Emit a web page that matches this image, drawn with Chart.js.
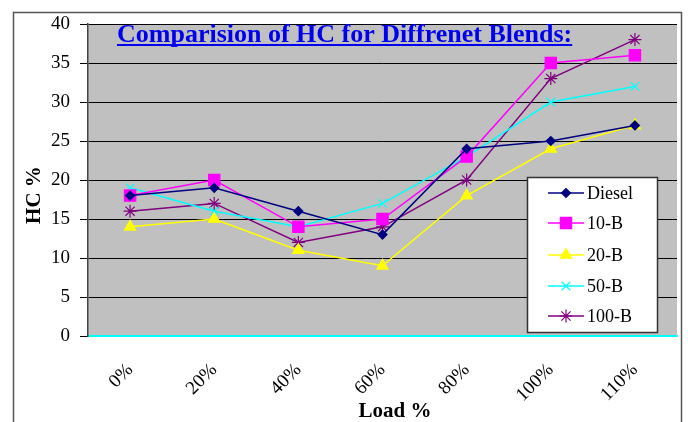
<!DOCTYPE html>
<html>
<head>
<meta charset="utf-8">
<script src="https://cdn.jsdelivr.net/npm/chart.js@4/dist/chart.umd.min.js"></script>
<style>
  html, body { margin: 0; padding: 0; background: #ffffff; }
  #wrap { width: 688px; height: 422px; position: relative; }
</style>
</head>
<body>
<div id="wrap"><canvas id="hc" width="688" height="422"></canvas></div>
<script>
// Engine load steps
const loads = ['0%', '20%', '40%', '60%', '80%', '100%', '110%'];

// HC % for each fuel blend
const diesel = [18, 19, 16, 13, 24, 25, 27];
const b10    = [18, 20, 14, 15, 23, 35, 36];
const b20    = [14, 15, 11, 9, 18, 24, 27];
const b50    = [19, 16, 14, 17, 23, 30, 32];
const b100   = [16, 17, 12, 14, 20, 33, 38];

const seriesNames = ['Diesel', '10-B', '20-B', '50-B', '100-B'];

const chartTitle = 'Comparision of HC for Diffrenet Blends:';
const xTitle = 'Load %';
const yTitle = 'HC %';

const serif = '"Liberation Serif", "Times New Roman", serif';

function line(label, data, color, style, radius) {
  return {
    label, data,
    borderColor: color,
    backgroundColor: color,
    borderWidth: 1.5,
    pointStyle: style,
    pointRadius: radius,
    pointHoverRadius: radius,
    pointBorderColor: color,
    pointBackgroundColor: color,
    pointBorderWidth: 1.2,
    tension: 0,
    fill: false
  };
}

// grey plot area, outer frame, title, axis titles and the boxed legend
const decor = {
  id: 'decor',
  beforeDraw(chart) {
    const { ctx, chartArea: a } = chart;
    ctx.save();
    ctx.fillStyle = '#c0c0c0';
    ctx.fillRect(a.left, a.top, a.right - a.left, a.bottom - a.top);
    ctx.strokeStyle = '#555555';
    ctx.lineWidth = 1.5;
    ctx.strokeRect(13.5, 12.5, 668, 440);
    ctx.restore();
  },
  afterDraw(chart) {
    const { ctx } = chart;
    ctx.save();

    // chart title, underlined
    ctx.font = 'bold 26px ' + serif;
    ctx.fillStyle = '#0000ee';
    ctx.textAlign = 'left';
    ctx.textBaseline = 'alphabetic';
    const tx = 117, ty = 42, tw = 457;
    ctx.fillText(chartTitle, tx, ty, tw);
    ctx.fillRect(tx, ty + 2, Math.min(tw, ctx.measureText(chartTitle).width), 2);

    // axis titles
    ctx.fillStyle = '#000000';
    ctx.font = 'bold 21px ' + serif;
    ctx.textAlign = 'center';
    ctx.textBaseline = 'middle';
    ctx.fillText(xTitle, 395, 412);
    ctx.save();
    ctx.translate(35, 195);
    ctx.rotate(-Math.PI / 2);
    ctx.fillText(yTitle, 0, 0);
    ctx.restore();

    // legend
    const bx = 527, by = 177, bw = 130, bh = 155;
    ctx.fillStyle = '#ffffff';
    ctx.fillRect(bx, by, bw, bh);
    ctx.strokeStyle = '#333333';
    ctx.lineWidth = 1.5;
    ctx.strokeRect(bx + 0.5, by + 0.5, bw, bh);
    const rows = [193, 223, 255, 286, 316];
    ctx.font = '18px ' + serif;
    ctx.textAlign = 'left';
    ctx.textBaseline = 'middle';
    chart.data.datasets.forEach((ds, i) => {
      const y = rows[i];
      ctx.strokeStyle = ds.borderColor;
      ctx.fillStyle = ds.backgroundColor;
      ctx.lineWidth = 1.5;
      ctx.beginPath();
      ctx.moveTo(548, y);
      ctx.lineTo(584, y);
      ctx.stroke();
      ctx.lineWidth = ds.pointBorderWidth;
      Chart.helpers.drawPoint(ctx, {
        pointStyle: ds.pointStyle, radius: ds.pointRadius,
        borderWidth: ds.pointBorderWidth, rotation: 0
      }, 566, y);
      ctx.fillStyle = '#000000';
      ctx.fillText(ds.label, 587, y + 1);
    });
    ctx.restore();
  }
};

new Chart(document.getElementById('hc'), {
  type: 'line',
  data: {
    labels: loads,
    datasets: [
      line(seriesNames[0], diesel, '#000080', 'rectRot', 4.5),
      line(seriesNames[1], b10, '#ff00ff', 'rect', 8),
      line(seriesNames[2], b20, '#ffff00', 'triangle', 6.5),
      line(seriesNames[3], b50, '#00ffff', 'crossRot', 6),
      line(seriesNames[4], b100, '#800080', 'star', 6.5)
    ]
  },
  options: {
    responsive: false,
    animation: false,
    layout: { padding: { top: 24, right: 11, left: 0, bottom: 0 } },
    plugins: { legend: { display: false }, title: { display: false }, tooltip: { enabled: false } },
    scales: {
      x: {
        offset: true,
        grid: { display: false, drawTicks: false },
        border: { display: true, color: '#00ffff', width: 2 },
        ticks: {
          minRotation: 45, maxRotation: 45,
          padding: 23,
          color: '#000000',
          font: { family: serif, size: 19 }
        },
        afterFit(s) { s.height = 86; }
      },
      y: {
        min: 0, max: 40,
        grid: { color: '#000000', lineWidth: 1, tickLength: 8, drawTicks: true },
        border: { display: true, color: '#444444', width: 1.5 },
        ticks: {
          stepSize: 5,
          padding: 10,
          color: '#000000',
          font: { family: serif, size: 19 }
        },
        afterFit(s) { s.width = 88; }
      }
    }
  },
  plugins: [decor]
});
</script>
</body>
</html>
